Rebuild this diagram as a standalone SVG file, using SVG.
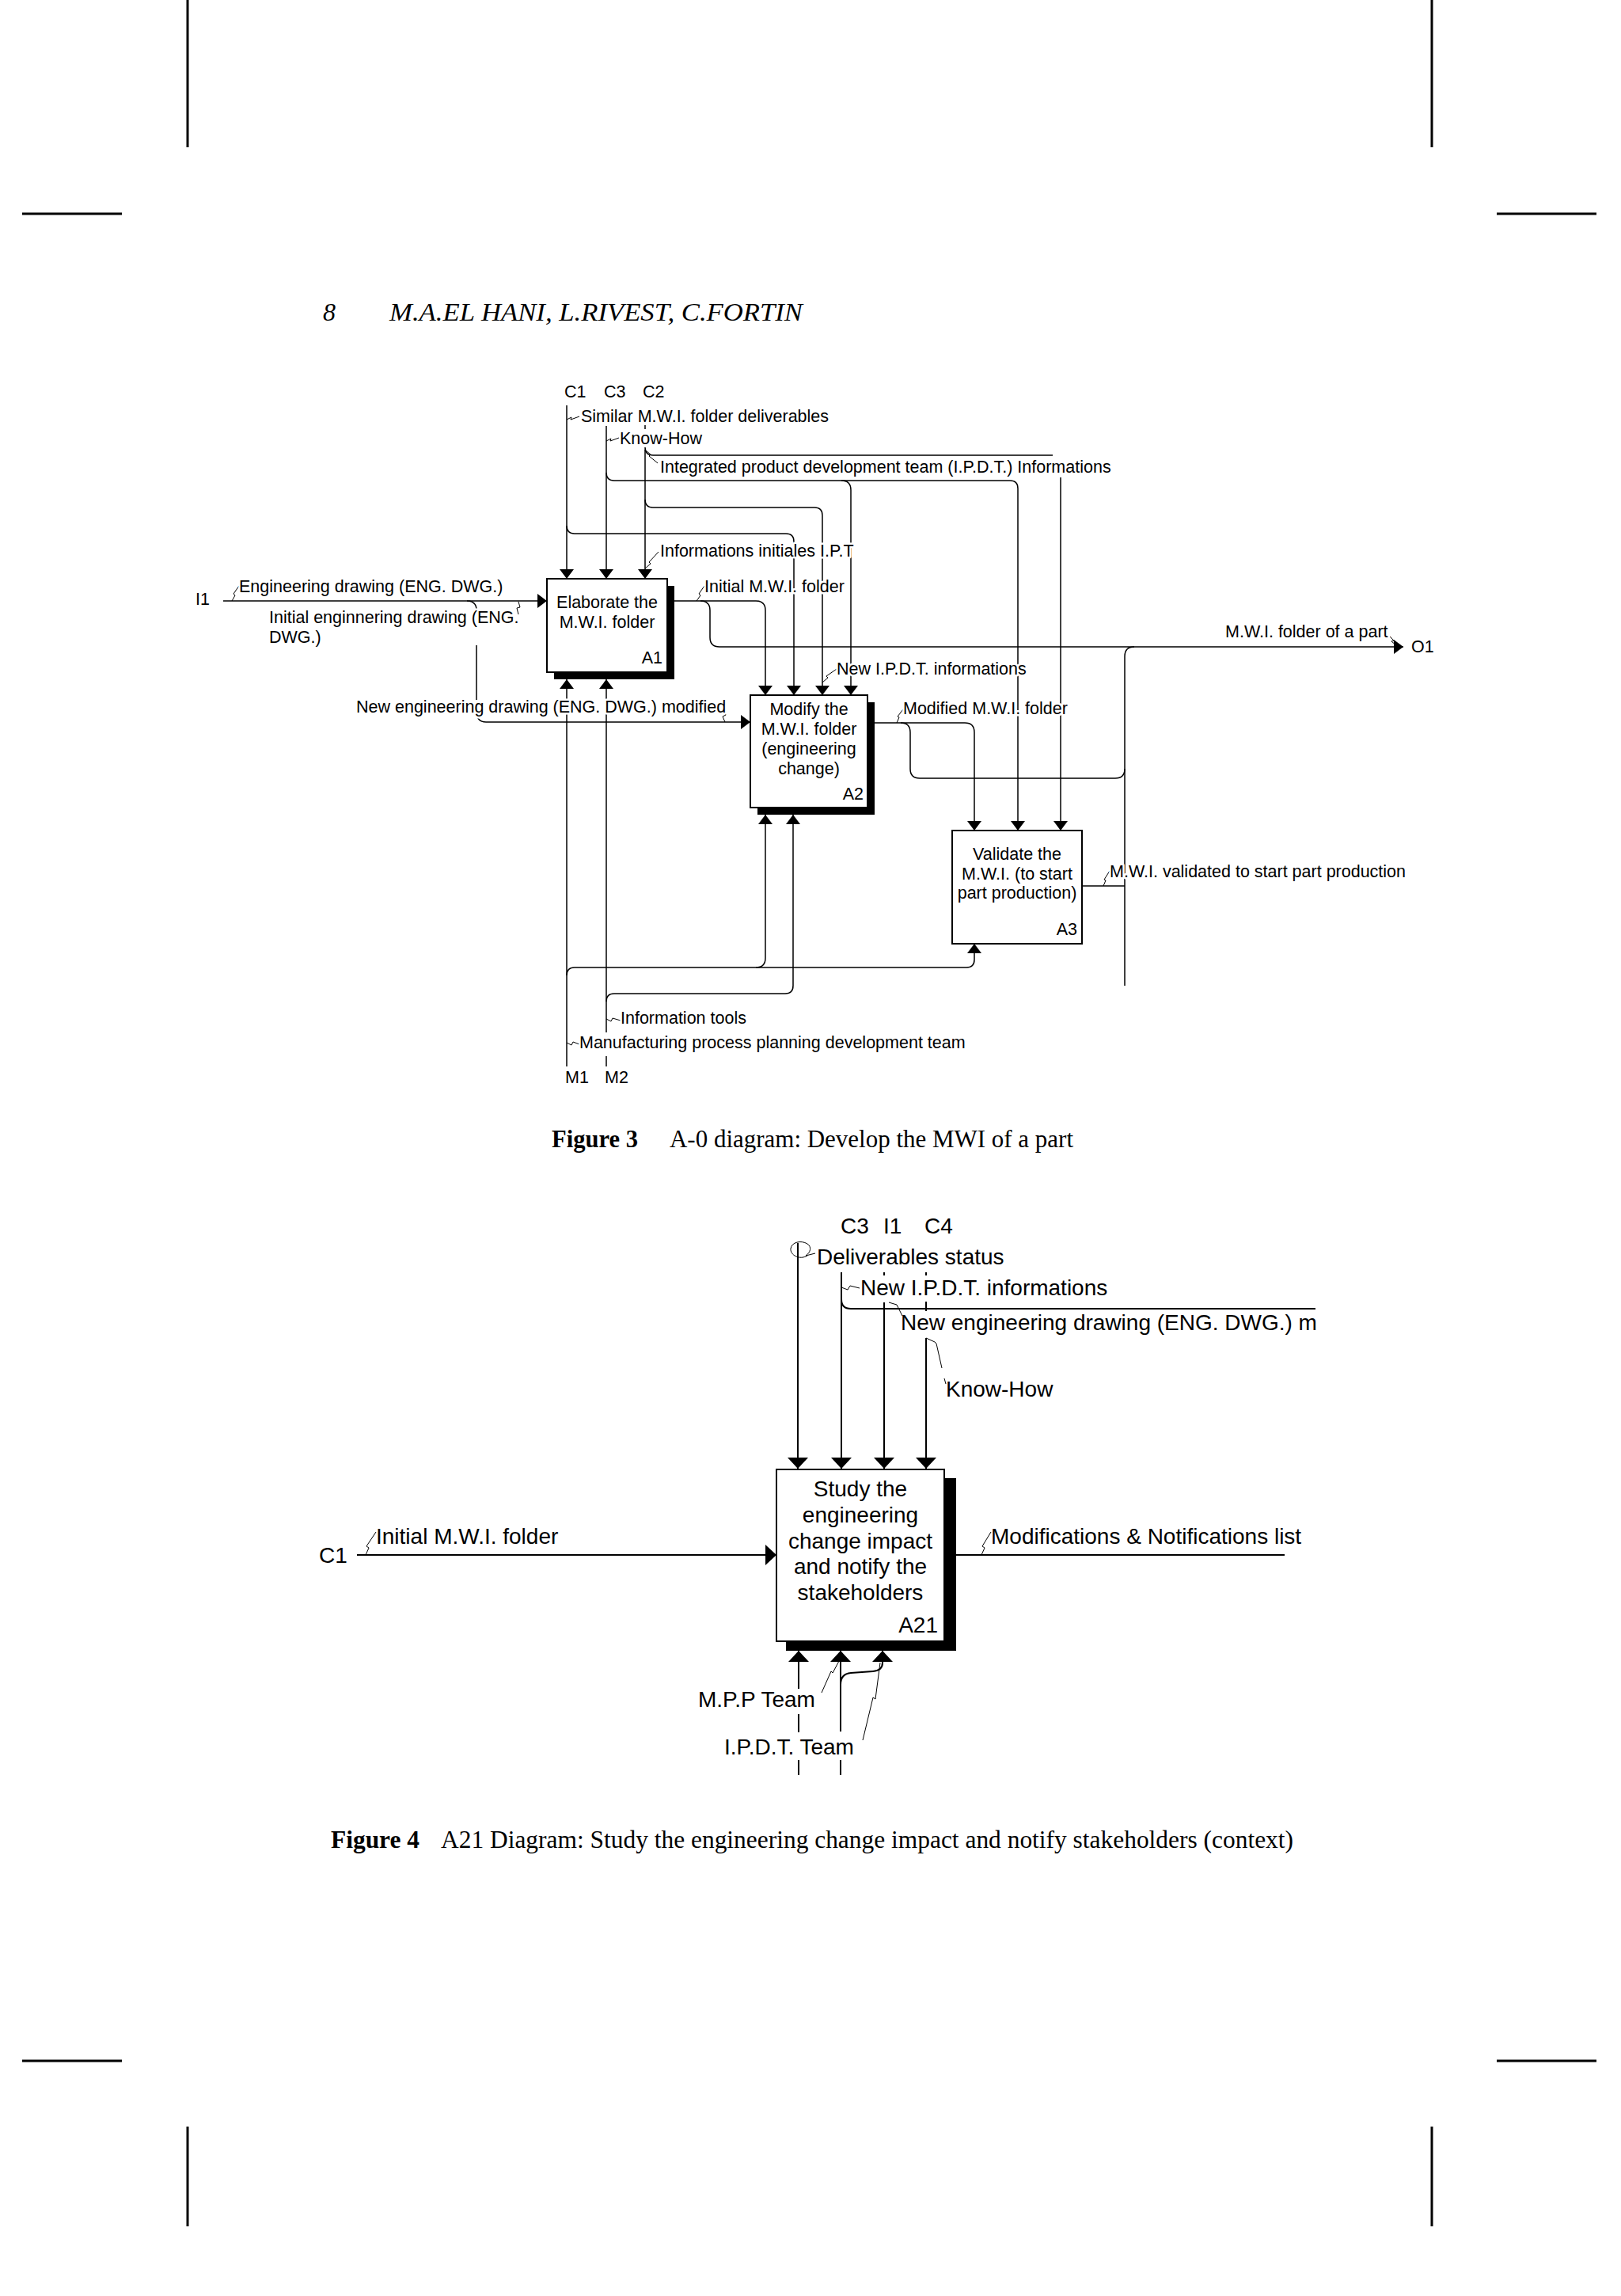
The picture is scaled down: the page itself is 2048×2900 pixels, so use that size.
<svg xmlns="http://www.w3.org/2000/svg" width="2048" height="2900" viewBox="0 0 2048 2900">
<defs>
<style>
.ln{fill:none;stroke:#000;stroke-width:1.5}
.l4{fill:none;stroke:#000;stroke-width:2}
.sq{fill:none;stroke:#000;stroke-width:1}
.box{fill:#fff;stroke:#000;stroke-width:2}
.sh{fill:#000}
.crop{stroke:#000;stroke-width:3}
.t3{font-family:"Liberation Sans",Arial,sans-serif;font-size:21.5px;fill:#000;stroke:#fff;stroke-width:5px;stroke-linejoin:round;paint-order:stroke}
.t4{font-family:"Liberation Sans",Arial,sans-serif;font-size:28px;fill:#000}
.cap{font-family:"Liberation Serif","Times New Roman",serif;font-size:31px;fill:#000}
.hdr{font-family:"Liberation Serif","Times New Roman",serif;font-size:32px;font-style:italic;fill:#000}
.mid{text-anchor:middle}
.end{text-anchor:end}
</style>
<marker id="a3" viewBox="0 0 12 18" refX="12" refY="9" markerWidth="12" markerHeight="18" markerUnits="userSpaceOnUse" orient="auto"><path d="M0,0 L12,9 L0,18 z"/></marker>
<marker id="a4" viewBox="0 0 14 26" refX="14" refY="13" markerWidth="14" markerHeight="26" markerUnits="userSpaceOnUse" orient="auto"><path d="M0,0 L14,13 L0,26 z"/></marker>
</defs>
<rect width="2048" height="2900" fill="#fff"/>

<g id="page-marks">
<line class="crop" x1="237" y1="0" x2="237" y2="186"/>
<line class="crop" x1="1809" y1="0" x2="1809" y2="186"/>
<line class="crop" x1="28" y1="270" x2="154" y2="270"/>
<line class="crop" x1="1891" y1="270" x2="2017" y2="270"/>
<line class="crop" x1="28" y1="2603" x2="154" y2="2603"/>
<line class="crop" x1="1891" y1="2603" x2="2017" y2="2603"/>
<line class="crop" x1="237" y1="2686" x2="237" y2="2812"/>
<line class="crop" x1="1809" y1="2686" x2="1809" y2="2812"/>
</g>

<g id="header">
<text class="hdr" x="408" y="405">8</text>
<text class="hdr" x="492" y="405" textLength="522" lengthAdjust="spacingAndGlyphs">M.A.EL HANI, L.RIVEST, C.FORTIN</text>
</g>

<!-- ================= FIGURE 3 ================= -->
<g id="fig3-connectors">
<!-- controls -->
<path class="ln" d="M716,512 V731" marker-end="url(#a3)"/>
<path class="ln" d="M716,664 Q716,674 726,674 H993 Q1003,674 1003,684 V878" marker-end="url(#a3)"/>
<path class="ln" d="M766,538 V731" marker-end="url(#a3)"/>
<path class="ln" d="M766,597 Q766,607 776,607 H1276 Q1286,607 1286,617 V1049" marker-end="url(#a3)"/>
<path class="ln" d="M1063,607 Q1075,607 1075,619 V878" marker-end="url(#a3)"/>
<path class="ln" d="M815,537 V542"/>
<path class="ln" d="M815,568 V731" marker-end="url(#a3)"/>
<path class="ln" d="M815,565 Q815,575 825,575 H1330"/>
<path class="ln" d="M1340,603 V1049" marker-end="url(#a3)"/>
<path class="ln" d="M815,631 Q815,641 825,641 H1029 Q1039,641 1039,651 V878" marker-end="url(#a3)"/>
<!-- input I1 -->
<path class="ln" d="M282,759 H691" marker-end="url(#a3)"/>
<path class="ln" d="M590,759 Q602,759 602,771"/>
<path class="ln" d="M602,815 V884"/>
<path class="ln" d="M602,898 Q602,912 614,912 H948" marker-end="url(#a3)"/>
<!-- A1 output -->
<path class="ln" d="M852,759 H955 Q967,759 967,771 V878" marker-end="url(#a3)"/>
<path class="ln" d="M885,759 Q897,759 897,771 V805 Q897,817 909,817 H1773" marker-end="url(#a3)"/>
<!-- A2 output -->
<path class="ln" d="M1105,913 H1219 Q1231,913 1231,925 V1049" marker-end="url(#a3)"/>
<path class="ln" d="M1138,913 Q1150,913 1150,925 V971 Q1150,983 1162,983 H1409 Q1421,983 1421,971"/>
<path class="ln" d="M1433,817 Q1421,817 1421,829 V1245"/>
<!-- A3 output -->
<path class="ln" d="M1367,1119 H1421"/>
<!-- mechanisms -->
<path class="ln" d="M716,1347 V858" marker-end="url(#a3)"/>
<path class="ln" d="M716,1232 Q716,1222 726,1222 H1221 Q1231,1222 1231,1212 V1192" marker-end="url(#a3)"/>
<path class="ln" d="M955,1222 Q967,1222 967,1210 V1029" marker-end="url(#a3)"/>
<path class="ln" d="M766,1347 V1334"/>
<path class="ln" d="M766,1304 V858" marker-end="url(#a3)"/>
<path class="ln" d="M766,1265 Q766,1255 776,1255 H992 Q1002,1255 1002,1245 V1029" marker-end="url(#a3)"/>
<!-- label squiggles -->
<path class="sq" d="M716,530 L722,527 L721,530 L732,526"/>
<path class="sq" d="M766,557 L772,554 L771,557 L782,553"/>
<path class="sq" d="M816,569 L822,574 L820,576 L831,585"/>
<path class="sq" d="M815,718 L822,712 L820,710 L832,697"/>
<path class="sq" d="M293,759 L297,752 L295,750 L302,740"/>
<path class="sq" d="M655,760 L657,767 L653,768 L655,776"/>
<path class="sq" d="M880,759 L885,752 L883,750 L890,740"/>
<path class="sq" d="M1756,804 L1761,809 L1758,810 L1765,816"/>
<path class="sq" d="M1039,862 L1046,856 L1044,854 L1057,845"/>
<path class="sq" d="M913,896 L917,903 L913,905 L916,912"/>
<path class="sq" d="M1133,913 L1136,906 L1134,905 L1141,896"/>
<path class="sq" d="M1394,1119 L1397,1112 L1395,1111 L1402,1100"/>
<path class="sq" d="M766,1287 L772,1290 L774,1286 L784,1289"/>
<path class="sq" d="M716,1317 L722,1320 L724,1316 L732,1319"/>
</g>

<g id="fig3-A1">
<rect class="sh" x="700" y="740" width="152" height="118"/>
<rect class="box" x="691" y="731" width="152" height="118"/>
<text class="t3 mid" x="767" y="768">Elaborate the</text>
<text class="t3 mid" x="767" y="793">M.W.I. folder</text>
<text class="t3 end" x="837" y="838">A1</text>
</g>
<g id="fig3-A2">
<rect class="sh" x="957" y="887" width="148" height="142"/>
<rect class="box" x="948" y="878" width="148" height="142"/>
<text class="t3 mid" x="1022" y="903">Modify the</text>
<text class="t3 mid" x="1022" y="928">M.W.I. folder</text>
<text class="t3 mid" x="1022" y="953">(engineering</text>
<text class="t3 mid" x="1022" y="978">change)</text>
<text class="t3 end" x="1091" y="1010">A2</text>
</g>
<g id="fig3-A3">
<rect class="box" x="1203" y="1049" width="164" height="143"/>
<text class="t3 mid" x="1285" y="1086">Validate the</text>
<text class="t3 mid" x="1285" y="1111">M.W.I. (to start</text>
<text class="t3 mid" x="1285" y="1135">part production)</text>
<text class="t3 end" x="1361" y="1181">A3</text>
</g>

<g id="fig3-labels">
<text class="t3" x="713" y="502">C1</text>
<text class="t3" x="763" y="502">C3</text>
<text class="t3" x="812" y="502">C2</text>
<text class="t3" x="734" y="533">Similar M.W.I. folder deliverables</text>
<text class="t3" x="783" y="561">Know-How</text>
<text class="t3" x="834" y="597">Integrated product development team (I.P.D.T.) Informations</text>
<text class="t3" x="834" y="703">Informations initiales I.P.T</text>
<text class="t3" x="247" y="764">I1</text>
<text class="t3" x="302" y="748">Engineering drawing (ENG. DWG.)</text>
<text class="t3" x="340" y="787">Initial enginnering drawing  (ENG.</text>
<text class="t3" x="340" y="812">DWG.)</text>
<text class="t3" x="890" y="748">Initial M.W.I. folder</text>
<text class="t3" x="1548" y="805">M.W.I. folder of a part</text>
<text class="t3" x="1783" y="824">O1</text>
<text class="t3" x="1057" y="852">New I.P.D.T. informations</text>
<text class="t3" x="450" y="900">New engineering drawing (ENG. DWG.) modified</text>
<text class="t3" x="1141" y="902">Modified M.W.I. folder</text>
<text class="t3" x="1402" y="1108">M.W.I. validated to start part production</text>
<text class="t3" x="784" y="1293">Information tools</text>
<text class="t3" x="732" y="1324">Manufacturing process planning development team</text>
<text class="t3" x="714" y="1368">M1</text>
<text class="t3" x="764" y="1368">M2</text>
</g>

<g id="caption3">
<text class="cap" x="697" y="1449" font-weight="bold" textLength="109" lengthAdjust="spacingAndGlyphs">Figure 3</text>
<text class="cap" x="846" y="1449" textLength="510" lengthAdjust="spacingAndGlyphs">A-0 diagram: Develop the MWI of a part</text>
</g>

<!-- ================= FIGURE 4 ================= -->
<g id="fig4-connectors">
<path class="l4" d="M1008,1570 V1855" marker-end="url(#a4)"/>
<path class="sq" d="M1020,1586 C1010,1592 998,1585 999,1577 C1000,1569 1012,1566 1020,1571 C1026,1575 1024,1582 1018,1586 L1030,1583"/>
<path class="l4" d="M1063,1607 V1855" marker-end="url(#a4)"/>
<path class="l4" d="M1063,1641 Q1063,1653 1075,1653 H1662"/>
<path class="l4" d="M1117,1607 V1611"/>
<path class="l4" d="M1117,1645 V1855" marker-end="url(#a4)"/>
<path class="l4" d="M1170,1607 V1611"/>
<path class="l4" d="M1170,1644 V1656"/>
<path class="l4" d="M1170,1690 V1855" marker-end="url(#a4)"/>
<path class="sq" d="M1063,1626 L1071,1629 L1074,1624 L1086,1627"/>
<path class="sq" d="M1123,1645 L1133,1648 L1140,1662"/>
<path class="sq" d="M1170,1690 L1181,1695 L1183,1697 L1190,1728"/>
<path class="sq" d="M1193,1741 L1195,1748"/>
<path class="l4" d="M451,1964 H981" marker-end="url(#a4)"/>
<path class="sq" d="M462,1964 L466,1955 L463,1953 L475,1935"/>
<path class="l4" d="M1208,1964 H1623"/>
<path class="sq" d="M1240,1964 L1244,1955 L1241,1953 L1252,1935"/>
<path class="l4" d="M1009,2133 V2085" marker-end="url(#a4)"/>
<path class="l4" d="M1009,2165 V2188"/>
<path class="l4" d="M1009,2223 V2242"/>
<path class="l4" d="M1062,2187 V2085" marker-end="url(#a4)"/>
<path class="l4" d="M1062,2223 V2242"/>
<path class="l4" d="M1062,2128 Q1062,2114 1075,2113 L1103,2111 Q1115,2110 1115,2100 V2085" marker-end="url(#a4)"/>
<path class="sq" d="M1060,2098 L1052,2113 L1050,2111 L1038,2138"/>
<path class="sq" d="M1112,2100 L1106,2146 L1103,2144 L1090,2198"/>
</g>

<g id="fig4-A21">
<rect class="sh" x="993" y="1867" width="215" height="218"/>
<rect class="box" x="981" y="1856" width="212" height="217"/>
<text class="t4 mid" x="1087" y="1890">Study the</text>
<text class="t4 mid" x="1087" y="1923">engineering</text>
<text class="t4 mid" x="1087" y="1956">change impact</text>
<text class="t4 mid" x="1087" y="1988">and notify the</text>
<text class="t4 mid" x="1087" y="2021">stakeholders</text>
<text class="t4 end" x="1185" y="2062">A21</text>
</g>

<g id="fig4-labels">
<text class="t4" x="1062" y="1558">C3</text>
<text class="t4" x="1116" y="1558">I1</text>
<text class="t4" x="1168" y="1558">C4</text>
<text class="t4" x="1032" y="1597">Deliverables status</text>
<text class="t4" x="1087" y="1636">New I.P.D.T. informations</text>
<text class="t4" x="1138" y="1680">New engineering drawing (ENG. DWG.) m</text>
<text class="t4" x="1195" y="1764">Know-How</text>
<text class="t4" x="403" y="1974">C1</text>
<text class="t4" x="475" y="1950">Initial M.W.I. folder</text>
<text class="t4" x="1252" y="1950">Modifications &amp; Notifications list</text>
<text class="t4" x="882" y="2156">M.P.P Team</text>
<text class="t4" x="915" y="2216">I.P.D.T. Team</text>
</g>

<g id="caption4">
<text class="cap" x="418" y="2334" font-weight="bold" textLength="112" lengthAdjust="spacingAndGlyphs">Figure 4</text>
<text class="cap" x="557" y="2334" textLength="1077" lengthAdjust="spacingAndGlyphs">A21 Diagram: Study the engineering change impact and notify stakeholders (context)</text>
</g>
</svg>
